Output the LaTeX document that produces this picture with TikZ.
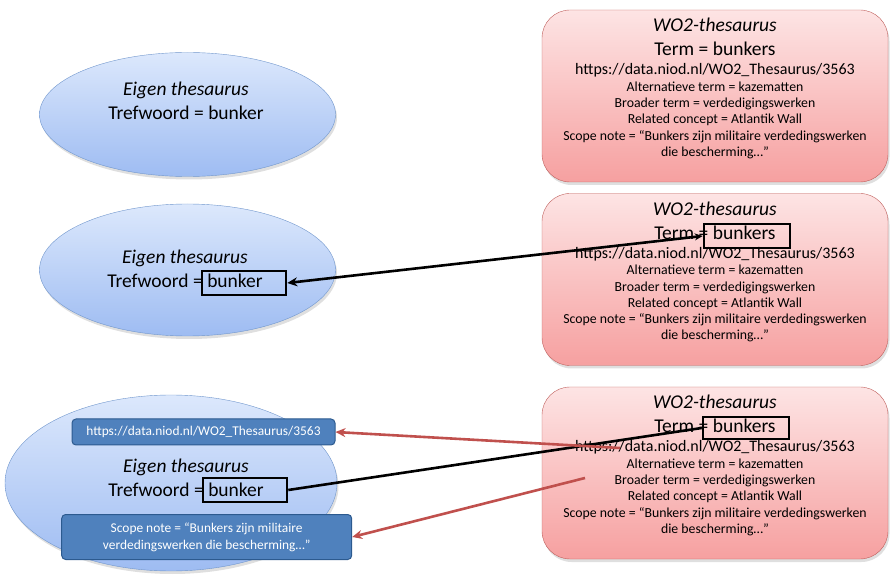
\documentclass[tikz,border=0pt]{standalone}
\usepackage{fontspec}
\setmainfont{Carlito}
\usetikzlibrary{arrows.meta,shapes.geometric,shadows}

\definecolor{elltop}{HTML}{DCE8FC}
\definecolor{ellbot}{HTML}{9EBCF2}
\definecolor{ellline}{HTML}{7096CC}
\definecolor{boxtop}{HTML}{FDE4E4}
\definecolor{boxbot}{HTML}{F6A0A0}
\definecolor{boxline}{HTML}{BF5F5C}
\definecolor{bluefill}{HTML}{4F81BD}
\definecolor{blueline}{HTML}{2C5A8F}
\definecolor{arrowred}{HTML}{C0504D}

\tikzset{
	eigen/.style={ellipse, draw=ellline, top color=elltop, bottom color=ellbot, inner sep=0pt,
		drop shadow={opacity=0.25, shadow xshift=1.5pt, shadow yshift=-3pt}},
	wobox/.style={rounded corners=28pt, draw=boxline, top color=boxtop, bottom color=boxbot,
		minimum width=346pt, minimum height=172pt, inner sep=0pt,
		drop shadow={opacity=0.25, shadow xshift=1.5pt, shadow yshift=-3pt}},
	big/.style={font=\fontsize{19.5}{24}\selectfont, inner sep=0pt, anchor=base},
	bigit/.style={font=\fontsize{19.5}{24}\selectfont\itshape, inner sep=0pt, anchor=base},
	urltext/.style={font=\fontsize{16}{19}\selectfont, inner sep=0pt, anchor=base},
	small/.style={font=\fontsize{13.8}{16}\selectfont, inner sep=0pt, anchor=base},
	hl/.style={draw, line width=2.6pt, minimum width=84pt, minimum height=24pt, inner sep=0pt},
	bluebox/.style={rounded corners=4pt, fill=bluefill, draw=blueline, line width=1pt, text=white,
		font=\fontsize{13.4}{17}\selectfont, align=center, inner sep=0pt},
	link/.style={line width=2.6pt},
	redlink/.style={line width=2.6pt, draw=arrowred, -{Stealth[length=10pt,width=9pt]}}
}

\begin{document}
\begin{tikzpicture}[x=1pt,y=-1pt]
	\useasboundingbox (0,0) rectangle (895,585);

	% WO2-thesaurus boxes
	\foreach \n/\dy in {a/0,b/183.5,c/377}{
		\node[wobox] (wo\n) at (715,96+\dy) {};
		\node[bigit] at (715,31.7+\dy) {WO2-thesaurus};
		\node[big] (term\n) at (715,56+\dy) {Term = bunkers};
		\node[urltext] (url\n) at (715,75+\dy) {https://data.niod.nl/WO2\_Thesaurus/3563};
		\foreach \t [count=\i] in {{Alternatieve term  = kazematten},{Broader term = verdedigingswerken},
			{Related concept = Atlantik Wall},{Scope note  = “Bunkers zijn militaire verdedingswerken},
			{die bescherming…”}}
			\node[small] at (715,75+16.3*\i+\dy) {\t};
	}

	% eigen thesaurus
	\node[eigen, minimum width=296pt, minimum height=124pt] (eiga) at (187.5,114.5) {};
	\node[bigit] at (186,96) {Eigen thesaurus};
	\node[big] at (186,120) {Trefwoord = bunker};

	\node[eigen, minimum width=296pt, minimum height=132pt] (eigb) at (187.5,270) {};
	\node[bigit] at (185,264) {Eigen thesaurus};
	\node[big] at (185,288) {Trefwoord = bunker};

	\node[eigen, minimum width=332pt, minimum height=176pt] (eigc) at (171,483) {};
	\node[bigit] at (186,472.7) {Eigen thesaurus};
	\node[big] at (186,496.7) {Trefwoord = bunker};
	\node[bluebox, minimum width=263pt, minimum height=26pt] (urlbox) at (203.5,432) {https://data.niod.nl/WO2\_Thesaurus/3563};
	\node[bluebox, minimum width=290pt, minimum height=45pt] (scopebox) at (206.7,537) {Scope note  = “Bunkers zijn militaire\\verdedingswerken  die bescherming…”};

	% frames
	\node[hl] (bunkerb) at (244,283) {};
	\node[hl] (bunkerc) at (245,490) {};
	\node[hl, minimum width=86pt] (bunkb) at (747,236) {};
	\node[hl, minimum width=86pt, minimum height=22pt] (bunkc) at (746,428) {};

	% links
	\draw[link, {Stealth[length=10pt,width=9pt]}-{Stealth[length=8pt,width=7pt]}] (bunkerb.east) -- (bunkb.west);
	\draw[link] (bunkerc.east) -- (bunkc.west);
	\coordinate (fromurl) at (620,448);
	\coordinate (fromscope) at (585,478);
	\draw[redlink] (fromurl) -- (urlbox.east);
	\draw[redlink] (fromscope) -- (scopebox.east);
\end{tikzpicture}
\end{document}
